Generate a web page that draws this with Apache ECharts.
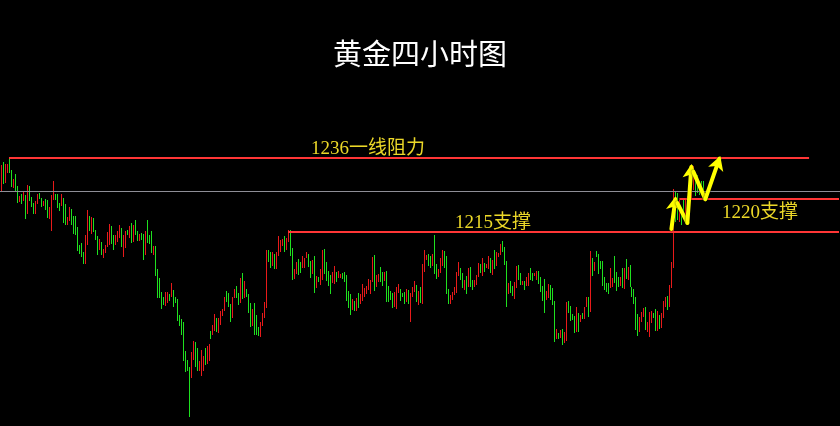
<!DOCTYPE html>
<html><head><meta charset="utf-8">
<script src="https://cdn.jsdelivr.net/npm/echarts@6/dist/echarts.min.js"></script>
<style>html,body{margin:0;padding:0;background:#000;}#c{width:840px;height:426px;}</style>
</head><body><div id="c"></div>
<script>
// 4-hour gold bars: highest / lowest price of each bar, and bar direction (1 = rising/red, 0 = falling/green)
const highs = [
1234.1,1234.9,1234.3,1234.3,1236.3,1232.6,1230.1,1231.5,1228.1,1225.2,
1225.8,1226.3,1225.5,1228.3,1228.1,1224.9,1223.2,1223.8,1225.8,1226.1,
1224.6,1223.8,1224.3,1224.1,1222.1,1225.5,1229.5,1225.8,1225.8,1223.2,
1225.8,1224.6,1222.9,1219.2,1222.1,1221.5,1219.5,1219.5,1216.3,1211.2,
1211.8,1209.2,1214.1,1221.2,1219.5,1219.2,1218.9,1215.5,1213.8,1212.9,
1212.1,1210.1,1211.2,1214.9,1217.2,1216.6,1214.1,1214.1,
1215.2,1216.9,1216.1,1214.1,1215.2,1215.5,1216.6,1217.5,1216.9,1218.3,
1215.2,1214.3,1214.6,1214.3,1215.2,1218.3,1214.1,1215.2,1210.9,1210.9,
1204.3,1201.8,1197.8,1196.3,1197.8,1197.8,1197.2,1200.3,1198.3,1196.3,
1195.8,1191.2,1190.1,1189.2,1180.9,1178.3,1176.3,1180.6,1183.8,1183.5,
1181.8,1178.1,1181.2,1179.5,1181.8,1182.3,1182.9,1186.6,1188.3,1191.5,
1190.3,1190.3,1192.3,1192.9,1196.3,1198.1,1197.5,
1194.3,1196.3,1198.6,1199.5,1197.5,1201.8,1203.2,1200.9,1198.6,1197.2,
1194.6,1192.9,1194.6,1191.2,1187.8,1189.2,1191.8,1194.9,1209.8,1209.8,
1209.2,1209.2,1208.6,1209.2,1213.8,1212.6,1212.9,1213.8,1213.2,1215.5,
1215.5,1210.3,1204.3,1206.3,1207.2,1206.3,1208.1,1207.5,1209.2,1208.6,
1206.6,1206.9,1208.1,1202.3,1202.1,1204.3,1209.8,1210.1,1206.3,1203.8,
1202.6,1203.5,1205.2,1203.5,1203.8,1202.9,1203.2,1203.5,
1202.6,1198.1,1197.2,1195.8,1195.2,1196.1,1197.5,1197.2,1200.1,1198.9,
1199.5,1201.5,1201.2,1207.8,1208.3,1202.6,1202.9,1204.9,1203.5,1203.5,
1203.8,1199.5,1198.1,1197.5,1197.8,1199.2,1200.1,1198.6,1197.5,1197.8,
1198.6,1198.3,1197.5,1199.2,1200.9,1199.8,1198.1,1199.2,1205.8,1209.8,
1208.3,1208.6,1208.1,1208.6,1214.1,1205.8,1204.3,1207.5,1209.8,1209.5,
1208.1,1198.6,1196.9,1197.8,1199.2,1203.5,1206.3,
1204.6,1203.2,1201.2,1202.3,1204.6,1204.9,1201.2,1201.2,1202.6,1206.1,
1205.8,1207.5,1206.1,1205.8,1208.1,1207.5,1206.9,1209.8,1209.2,1208.9,
1211.5,1212.3,1210.6,1206.6,1200.3,1200.9,1199.5,1200.6,1205.2,1205.5,
1203.2,1200.9,1200.9,1202.1,1203.2,1204.6,1203.2,1203.2,1203.8,1203.8,
1202.1,1199.5,1201.5,1198.1,1200.1,1199.8,1198.9,1195.2,1187.2,1186.1,
1186.9,1187.2,1186.3,1194.9,1195.2,1193.8,1191.5,1190.9,
1193.5,1191.8,1191.2,1191.8,1193.5,1196.3,1196.3,1209.5,1207.5,1206.3,
1209.5,1208.6,1206.6,1206.6,1202.1,1200.3,1200.3,1204.6,1201.8,1208.1,
1203.5,1202.1,1202.1,1204.6,1204.6,1207.2,1204.9,1205.5,1199.2,1198.6,
1196.3,1191.5,1190.6,1192.1,1193.2,1193.5,1189.2,1192.1,1192.3,1191.8,
1192.9,1192.3,1191.2,1191.8,1195.2,1196.3,1196.6,1199.8,1206.3,1227.2,
1226.6,1226.1,1224.1,1221.8,1224.1,1224.6,1225.2,1229.2,1232.6,1233.8,
1232.1,1231.2,1228.3,1229.5,1229.5
];
const lows = [
1226.3,1228.6,1228.9,1231.8,1231.8,1227.8,1227.5,1226.6,1223.2,1223.5,
1222.9,1223.8,1218.6,1220.1,1223.8,1222.1,1220.1,1220.1,1222.9,1224.3,
1222.1,1222.3,1221.2,1218.9,1218.6,1215.2,1224.1,1224.1,1221.8,1220.9,
1222.3,1217.5,1216.9,1216.9,1218.1,1216.9,1214.3,1214.1,1209.5,1208.6,
1207.8,1205.8,1205.8,1211.2,1215.2,1214.3,1214.9,1212.6,1208.3,1209.8,
1208.3,1207.5,1208.9,1210.6,1211.2,1211.5,1209.8,1211.2,
1212.1,1213.2,1210.6,1207.8,1210.3,1214.1,1213.2,1211.8,1212.1,1214.1,
1212.3,1212.3,1212.6,1206.9,1208.3,1211.8,1211.5,1208.9,1208.3,1202.3,
1196.1,1196.1,1192.9,1194.1,1193.8,1194.6,1195.2,1196.3,1193.5,1194.6,
1189.5,1188.1,1185.5,1178.1,1174.9,1175.2,1162.1,1173.2,1178.3,1176.3,
1175.2,1175.2,1173.8,1175.2,1176.9,1177.2,1178.1,1184.3,1185.5,1186.6,
1186.3,1186.1,1188.3,1190.9,1192.3,1194.9,1193.5,
1189.2,1190.3,1196.1,1196.1,1194.1,1194.6,1195.8,1196.1,1196.3,1191.8,
1187.8,1188.1,1185.5,1185.5,1185.2,1184.9,1188.1,1190.3,1193.2,1206.3,
1204.6,1205.2,1204.3,1204.3,1208.1,1209.2,1210.9,1209.2,1209.8,1212.1,
1208.1,1201.2,1201.5,1202.9,1202.6,1203.2,1204.6,1204.6,1207.5,1204.9,
1201.8,1202.9,1197.5,1198.9,1200.6,1199.8,1201.2,1202.9,1200.9,1199.5,
1197.2,1200.3,1200.1,1200.6,1201.8,1201.8,1201.5,1200.6,
1195.2,1193.2,1191.2,1192.6,1192.3,1192.3,1193.2,1194.3,1195.2,1196.3,
1197.2,1198.3,1197.2,1200.6,1198.1,1199.2,1200.6,1200.6,1199.5,1200.9,
1194.9,1194.9,1195.5,1193.2,1193.5,1192.9,1197.5,1195.2,1196.3,1194.3,
1194.9,1194.3,1189.2,1196.3,1197.8,1194.9,1194.1,1194.6,1194.3,1203.5,
1206.9,1205.2,1204.6,1205.2,1202.9,1201.5,1202.1,1203.2,1205.2,1204.6,
1197.2,1194.3,1194.3,1195.5,1196.9,1197.5,1202.3,
1201.2,1198.9,1198.3,1197.2,1199.2,1199.2,1198.3,1199.2,1199.8,1202.1,
1203.2,1202.3,1203.5,1204.6,1204.3,1203.2,1202.6,1204.3,1205.2,1207.8,
1208.3,1209.2,1205.5,1193.5,1197.2,1197.5,1196.6,1195.8,1198.9,1201.2,
1199.8,1199.8,1198.3,1199.5,1199.5,1201.2,1200.9,1202.3,1201.2,1200.1,
1197.8,1195.2,1191.8,1195.5,1196.1,1195.5,1194.1,1183.5,1184.3,1184.3,
1184.6,1182.6,1183.2,1183.8,1191.8,1189.5,1189.8,1186.1,
1186.3,1186.3,1189.2,1190.1,1190.1,1193.5,1190.6,1192.1,1202.3,1203.8,
1207.8,1202.9,1204.3,1199.5,1198.3,1197.8,1197.2,1198.9,1199.2,1200.3,
1198.1,1199.2,1199.5,1198.9,1198.6,1201.5,1201.2,1199.2,1196.3,1194.3,
1186.9,1185.2,1186.3,1189.2,1190.6,1186.9,1186.3,1184.9,1188.9,1190.3,
1186.6,1186.6,1187.2,1187.5,1190.3,1193.5,1192.6,1193.5,1198.9,1204.6,
1217.8,1218.3,1217.8,1216.9,1218.9,1219.8,1221.8,1221.2,1224.6,1226.9,
1225.2,1226.1,1225.5,1226.1,1226.9
];
const rising = [
1,0,1,1,0,0,1,0,0,1, 0,1,0,1,0,0,0,1,1,0, 0,1,0,0,1,1,1,0,0,0, 1,0,0,1,1,0,0,0,0,0,
0,0,1,1,0,1,0,0,0,1, 0,1,1,1,1,0,0,1,
1,1,0,1,1,0,1,0,1,0, 0,1,0,0,1,0,0,0,1,0, 0,0,0,0,1,1,0,1,0,0, 0,0,0,0,0,0,0,1,1,0,
0,1,1,1,0,1,1,0,1,1, 0,1,1,1,1,0,0,
0,1,1,0,0,1,0,1,0,0, 0,1,0,0,0,1,1,1,1,0, 0,1,0,1,1,1,1,0,1,1, 0,0,1,1,0,0,1,1,1,0,
0,1,0,1,0,1,1,0,0,0, 0,1,1,0,1,1,0,0,
0,0,0,1,0,1,0,1,1,1, 1,1,1,1,0,1,1,0,0,1, 0,0,0,0,1,1,1,0,0,0, 1,0,1,1,1,0,1,0,1,1,
1,0,0,1,0,0,1,1,1,0, 0,0,1,1,1,1,1,
0,0,1,0,1,0,0,1,1,1, 0,1,0,1,1,0,1,0,1,1, 1,0,0,0,1,0,0,1,1,0, 0,1,0,1,1,0,0,1,1,0,
0,0,0,1,1,0,0,0,1,0, 1,0,1,1,0,0,0,0,
1,0,1,0,1,1,0,1,0,1, 0,0,0,0,0,0,0,1,1,0, 0,0,1,0,1,0,1,0,0,0, 0,0,1,1,1,0,1,1,1,0,
0,1,0,1,1,1,0,1,1,1, 0,0,1,0,0,1,1,1,1,1, 0,0,0,0,0
];
const slotCount = 421;                 // time slots across the chart (bars + empty space on the right)
const resistanceLevel = 1236;          // "1236一线阻力"
const supportLevel = 1215;             // "1215支撑"
const supportLevel2 = 1224.3;          // drawn line of "1220支撑"
const referenceLevel = 1226.6;         // grey reference line
const resistanceSpan = [4, 405];
const supportSpan = [144, 420];
const support2Span = [340, 420];
// annotation arrows: [start slot, start price], [end slot, end price], has arrow head
const arrowLegs = [
  [[336, 1215.8], [338, 1224.3], 1],
  [[339, 1223.2], [344, 1217.5], 0],
  [[344, 1217.5], [346, 1233.5], 1],
  [[347, 1232.1], [353, 1224.3], 0],
  [[353, 1224.3], [360, 1235.8], 1]
];
const titleText = '黄金四小时图';
const noteTexts = ['1236一线阻力', '1215支撑', '1220支撑'];

const RED = '#e81a1a', GREEN = '#1fe01f', LINE_RED = '#ff3636', YELLOW = '#ecd828';
const categories = Array.from({length: slotCount}, (_, i) => String(i));
const barData = highs.map((h, i) => [i, lows[i], h, rising[i]]);

const redLine = {color: LINE_RED, width: 2, type: 'solid'};
const markData = [
  [{coord: [resistanceSpan[0], resistanceLevel], lineStyle: redLine}, {coord: [resistanceSpan[1], resistanceLevel]}],
  [{coord: [supportSpan[0], supportLevel], lineStyle: redLine}, {coord: [supportSpan[1], supportLevel]}],
  [{coord: [support2Span[0], supportLevel2], lineStyle: redLine}, {coord: [support2Span[1], supportLevel2]}],
  {yAxis: referenceLevel, lineStyle: {color: '#8e8e96', width: 1, type: 'solid'}}
];
arrowLegs.forEach(([a, b, head]) => {
  markData.push([
    {coord: a, symbol: 'none', lineStyle: {color: '#ffff00', width: 4, type: 'solid', cap: 'round', shadowColor: 'rgba(0,0,0,0.8)', shadowBlur: 2}},
    {coord: b, symbol: head ? 'arrow' : 'none', symbolSize: [12, 14], symbolOffset: [0, -3]}
  ]);
});

function renderBar(params, api) {
  const top = api.coord([api.value(0), api.value(2)]);
  const bot = api.coord([api.value(0), api.value(1)]);
  const x = Math.round(top[0]);
  const y = Math.round(top[1]);
  const h = Math.max(1, Math.round(bot[1]) - y);
  return {
    type: 'rect',
    shape: {x: x, y: y, width: 1, height: h},
    style: {fill: api.value(3) ? RED : GREEN}
  };
}

const chart = echarts.init(document.getElementById('c'), null, {renderer: 'canvas'});
const cjk = "'Liberation Serif','Noto Sans CJK SC',serif";
chart.setOption({
  backgroundColor: '#000000',
  animation: false,
  title: {
    text: titleText, left: 'center', top: 39, padding: 0,
    textStyle: {color: '#ffffff', fontSize: 29, fontWeight: 'normal', fontFamily: "'Noto Sans CJK SC'"}
  },
  grid: {left: -1, right: -1, top: 0, bottom: 0},
  xAxis: {type: 'category', data: categories, boundaryGap: true, show: false},
  yAxis: {type: 'value', min: 1159.5, max: 1281.2, show: false, splitLine: {show: false}},
  series: [{
    type: 'custom',
    data: barData,
    encode: {x: 0, y: [1, 2]},
    renderItem: renderBar,
    silent: true,
    markLine: {
      silent: true, symbol: ['none', 'none'], label: {show: false},
      emphasis: {disabled: true},
      data: markData
    }
  }],
  graphic: [
    {type: 'text', x: 368, y: 149, style: {text: noteTexts[0], fill: YELLOW, font: "19px " + cjk, textAlign: 'center', textVerticalAlign: 'middle', align: 'center', verticalAlign: 'middle'}},
    {type: 'text', x: 493, y: 223, style: {text: noteTexts[1], fill: YELLOW, font: "19px " + cjk, textAlign: 'center', textVerticalAlign: 'middle', align: 'center', verticalAlign: 'middle'}},
    {type: 'text', x: 760, y: 213, style: {text: noteTexts[2], fill: YELLOW, font: "19px " + cjk, textAlign: 'center', textVerticalAlign: 'middle', align: 'center', verticalAlign: 'middle'}}
  ]
});
</script></body></html>
